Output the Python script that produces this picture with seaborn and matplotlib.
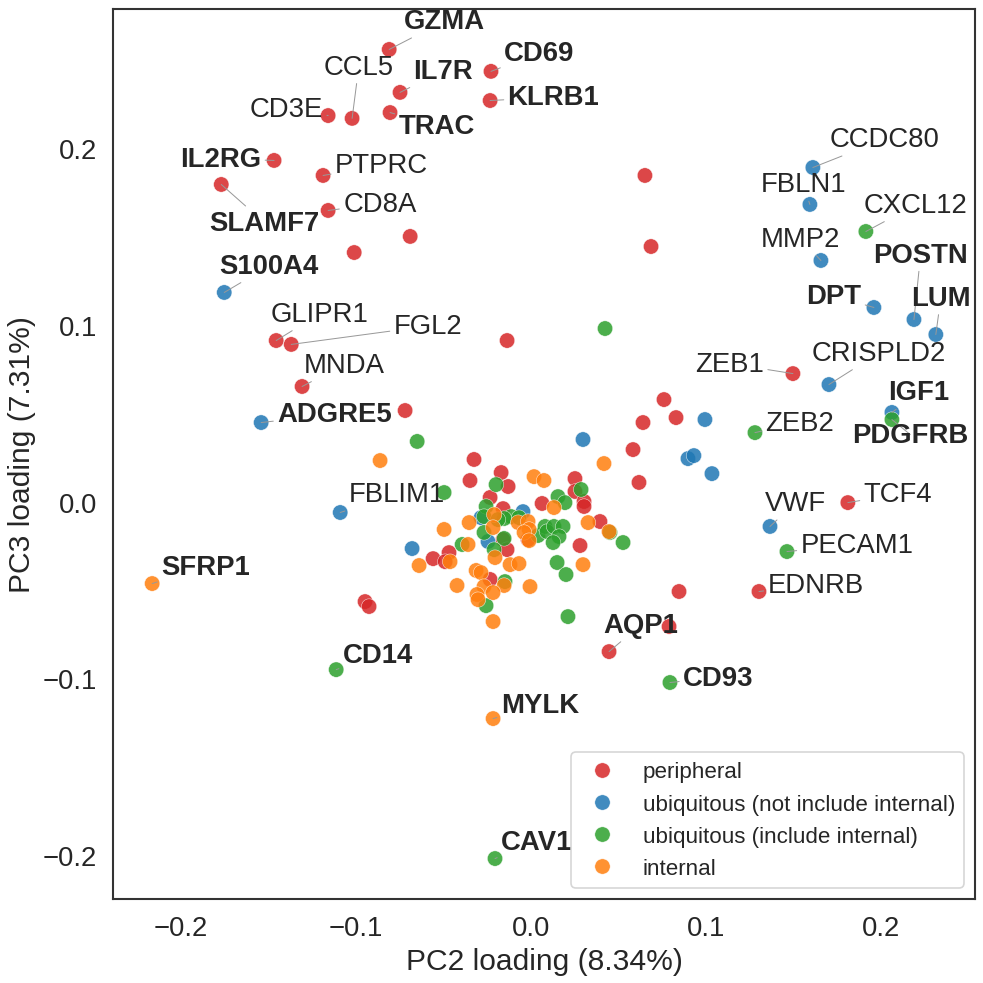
import pandas as pd
import matplotlib
matplotlib.use('Agg')
import matplotlib.pyplot as plt
import seaborn as sns

sns.set_theme(style='white')
plt.rcParams['font.family'] = ['Liberation Sans', 'DejaVu Sans']
plt.rcParams['axes.linewidth'] = 1.25
plt.rcParams['axes.edgecolor'] = '.2'

groups = ['peripheral', 'ubiquitous (not include internal)',
          'ubiquitous (include internal)', 'internal']
colors = ['#d62728', '#1f77b4', '#2ca02c', '#ff7f0e']

# labelled genes (PC2, PC3 loadings)
genes = ['GZMA', 'CCL5', 'CD3E', 'IL7R', 'TRAC', 'CD69', 'KLRB1', 'IL2RG', 'PTPRC',
         'SLAMF7', 'CD8A', 'GLIPR1', 'FGL2', 'MNDA', 'ZEB1', 'TCF4', 'EDNRB', 'AQP1',
         'S100A4', 'ADGRE5', 'FBLIM1', 'CCDC80', 'FBLN1', 'MMP2', 'DPT', 'POSTN',
         'LUM', 'CRISPLD2', 'IGF1', 'VWF',
         'CXCL12', 'PDGFRB', 'ZEB2', 'PECAM1', 'CD14', 'CD93', 'CAV1',
         'SFRP1', 'MYLK']
gene_group = [0] * 18 + [1] * 12 + [2] * 7 + [3] * 2
gene_pc2 = [-0.0811, -0.1023, -0.1160, -0.0749, -0.0806, -0.0229, -0.0234, -0.1469, -0.1189,
            -0.1771, -0.1160, -0.1457, -0.1371, -0.1309, 0.1497, 0.1811, 0.1303, 0.0446,
            -0.1754, -0.1543, -0.1091, 0.1611, 0.1594, 0.1657, 0.1960, 0.2189,
            0.2314, 0.1703, 0.2063, 0.1366,
            0.1914, 0.2063, 0.1280, 0.1463, -0.1114, 0.0794, -0.0206,
            -0.2166, -0.0217]
gene_pc3 = [0.2558, 0.2168, 0.2184, 0.2315, 0.2201, 0.2434, 0.2269, 0.1930, 0.1845,
            0.1794, 0.1647, 0.0911, 0.0889, 0.0651, 0.0724, -0.0006, -0.0509, -0.0849,
            0.1183, 0.0447, -0.0062, 0.1890, 0.1681, 0.1364, 0.1098, 0.1030,
            0.0945, 0.0662, 0.0504, -0.0141,
            0.1528, 0.0464, 0.0390, -0.0283, -0.0951, -0.1024, -0.2020,
            -0.0464, -0.1228]
bold_genes = ['GZMA', 'IL7R', 'CD69', 'KLRB1', 'TRAC', 'IL2RG', 'SLAMF7', 'S100A4',
              'ADGRE5', 'SFRP1', 'CD14', 'MYLK', 'CAV1', 'AQP1', 'CD93', 'POSTN',
              'DPT', 'LUM', 'IGF1', 'PDGFRB']

# unlabelled genes per group
periph_pc2 = [0.0651, 0.0686, -0.0691, -0.1011, -0.0137, -0.0720, 0.0760, 0.0640, 0.0829,
              0.0583, 0.0617, -0.0326, -0.0171, -0.0349, -0.0131, -0.0234, 0.0063, -0.0160,
              0.0251, 0.0251, 0.0303, 0.0303, 0.0394, 0.0280, -0.0160, -0.0137, -0.0560,
              -0.0469, -0.0491, -0.0234, 0.0846, 0.0789, -0.0949, -0.0926, -0.0017]
periph_pc3 = [0.1845, 0.1443, 0.1500, 0.1409, 0.0911, 0.0515, 0.0577, 0.0447, 0.0475,
              0.0294, 0.0108, 0.0238, 0.0164, 0.0119, 0.0085, 0.0023, -0.0011, -0.0040,
              0.0130, 0.0057, 0.0000, -0.0028, -0.0113, -0.0249, -0.0215, -0.0272, -0.0323,
              -0.0289, -0.0340, -0.0441, -0.0509, -0.0707, -0.0566, -0.0594, -0.0215]
ubiq_pc2 = [0.0297, 0.0994, 0.0897, 0.0931, 0.1034, -0.0046, -0.0286, -0.0246, -0.0680]
ubiq_pc3 = [0.0351, 0.0464, 0.0243, 0.0260, 0.0158, -0.0057, -0.0091, -0.0226, -0.0266]
ubiq_int_pc2 = [0.0423, -0.0651, -0.0497, -0.0200, 0.0286, 0.0154, 0.0194, -0.0257, -0.0269,
                -0.0114, -0.0154, -0.0189, -0.0069, -0.0269, 0.0040, 0.0080, 0.0091, 0.0131,
                0.0183, 0.0451, 0.0526, 0.0160, 0.0126, -0.0154, -0.0211, -0.0394, 0.0149,
                0.0200, -0.0149, -0.0257, 0.0211]
ubiq_int_pc3 = [0.0979, 0.0340, 0.0051, 0.0096, 0.0068, 0.0028, -0.0006, -0.0028, -0.0085,
                -0.0085, -0.0096, -0.0102, -0.0091, -0.0175, -0.0192, -0.0141, -0.0170, -0.0141,
                -0.0141, -0.0175, -0.0232, -0.0198, -0.0232, -0.0209, -0.0272, -0.0243, -0.0345,
                -0.0413, -0.0453, -0.0589, -0.0651]
internal_pc2 = [-0.0863, 0.0417, 0.0017, 0.0074, 0.0131, -0.0211, -0.0074, -0.0017, -0.0011,
                -0.0217, -0.0354, -0.0497, -0.0040, -0.0011, 0.0326, 0.0446, -0.0206, -0.0120,
                -0.0069, -0.0360, -0.0463, -0.0640, 0.0297, -0.0314, -0.0286, -0.0423, -0.0154,
                -0.0006, -0.0269, -0.0309, -0.0217, -0.0303, -0.0217]
internal_pc3 = [0.0232, 0.0215, 0.0141, 0.0119, -0.0034, -0.0074, -0.0119, -0.0113, -0.0158,
                -0.0147, -0.0119, -0.0158, -0.0175, -0.0221, -0.0119, -0.0170, -0.0317, -0.0357,
                -0.0351, -0.0243, -0.0340, -0.0362, -0.0357, -0.0390, -0.0402, -0.0475, -0.0475,
                -0.0481, -0.0481, -0.0526, -0.0515, -0.0555, -0.0679]

# label offsets (points) relative to each labelled gene
label_offset = {
    'GZMA': (33, 17), 'CCL5': (4, 31), 'CD3E': (-25, 4), 'IL7R': (26, 13),
    'TRAC': (28, -8), 'CD69': (29, 11), 'KLRB1': (38, 2), 'IL2RG': (-32, 1),
    'PTPRC': (35, 6), 'SLAMF7': (26, -23), 'CD8A': (31, 4), 'S100A4': (27, 16),
    'GLIPR1': (26, 16), 'FGL2': (82, 11), 'MNDA': (25, 13), 'ADGRE5': (44, 5),
    'FBLIM1': (34, 11), 'SFRP1': (32, 10), 'CD14': (25, 9), 'MYLK': (28, 8),
    'CAV1': (25, 10), 'AQP1': (19, 16), 'CD93': (29, 3), 'CCDC80': (43, 17),
    'FBLN1': (-4, 12), 'CXCL12': (30, 16), 'MMP2': (-12, 13), 'POSTN': (4, 39),
    'DPT': (-24, 7), 'LUM': (3, 22), 'ZEB1': (-38, 6), 'CRISPLD2': (30, 19),
    'IGF1': (16, 12), 'PDGFRB': (11, -9), 'ZEB2': (27, 6), 'TCF4': (30, 5),
    'VWF': (15, 14), 'PECAM1': (42, 4), 'EDNRB': (34, 4),
}

frames = [pd.DataFrame({'pc2': periph_pc2, 'pc3': periph_pc3, 'group': groups[0]}),
          pd.DataFrame({'pc2': ubiq_pc2, 'pc3': ubiq_pc3, 'group': groups[1]}),
          pd.DataFrame({'pc2': ubiq_int_pc2, 'pc3': ubiq_int_pc3, 'group': groups[2]}),
          pd.DataFrame({'pc2': internal_pc2, 'pc3': internal_pc3, 'group': groups[3]})]
lab = pd.DataFrame({'gene': genes, 'pc2': gene_pc2, 'pc3': gene_pc3,
                    'group': [groups[g] for g in gene_group]})
df = pd.concat(frames + [lab], ignore_index=True)

fig, ax = plt.subplots(figsize=(8.2, 8.2), dpi=120)
fig.subplots_adjust(left=113 / 984, right=975 / 984, top=1 - 10 / 984, bottom=1 - 900 / 984)

sns.scatterplot(data=df, x='pc2', y='pc3', hue='group', hue_order=groups,
                palette=colors, s=85, alpha=0.85, linewidth=0.3, edgecolor='w', ax=ax)

for _, r in lab.iterrows():
    ax.annotate(r.gene, xy=(r.pc2, r.pc3), xytext=label_offset[r.gene],
                textcoords='offset points', ha='center', va='center',
                fontsize=16.5, color='.15',
                fontweight='bold' if r.gene in bold_genes else 'normal',
                arrowprops=dict(arrowstyle='-', color='#999999', lw=0.6,
                                shrinkA=0, shrinkB=0))

ax.set_xlabel('PC2 loading (8.34%)', fontsize=18)
ax.set_ylabel('PC3 loading (7.31%)', fontsize=18)
ax.tick_params(labelsize=16.5)
ax.legend(loc='lower right', fontsize=13.4, title=None)

plt.savefig('out.png', dpi=120)
